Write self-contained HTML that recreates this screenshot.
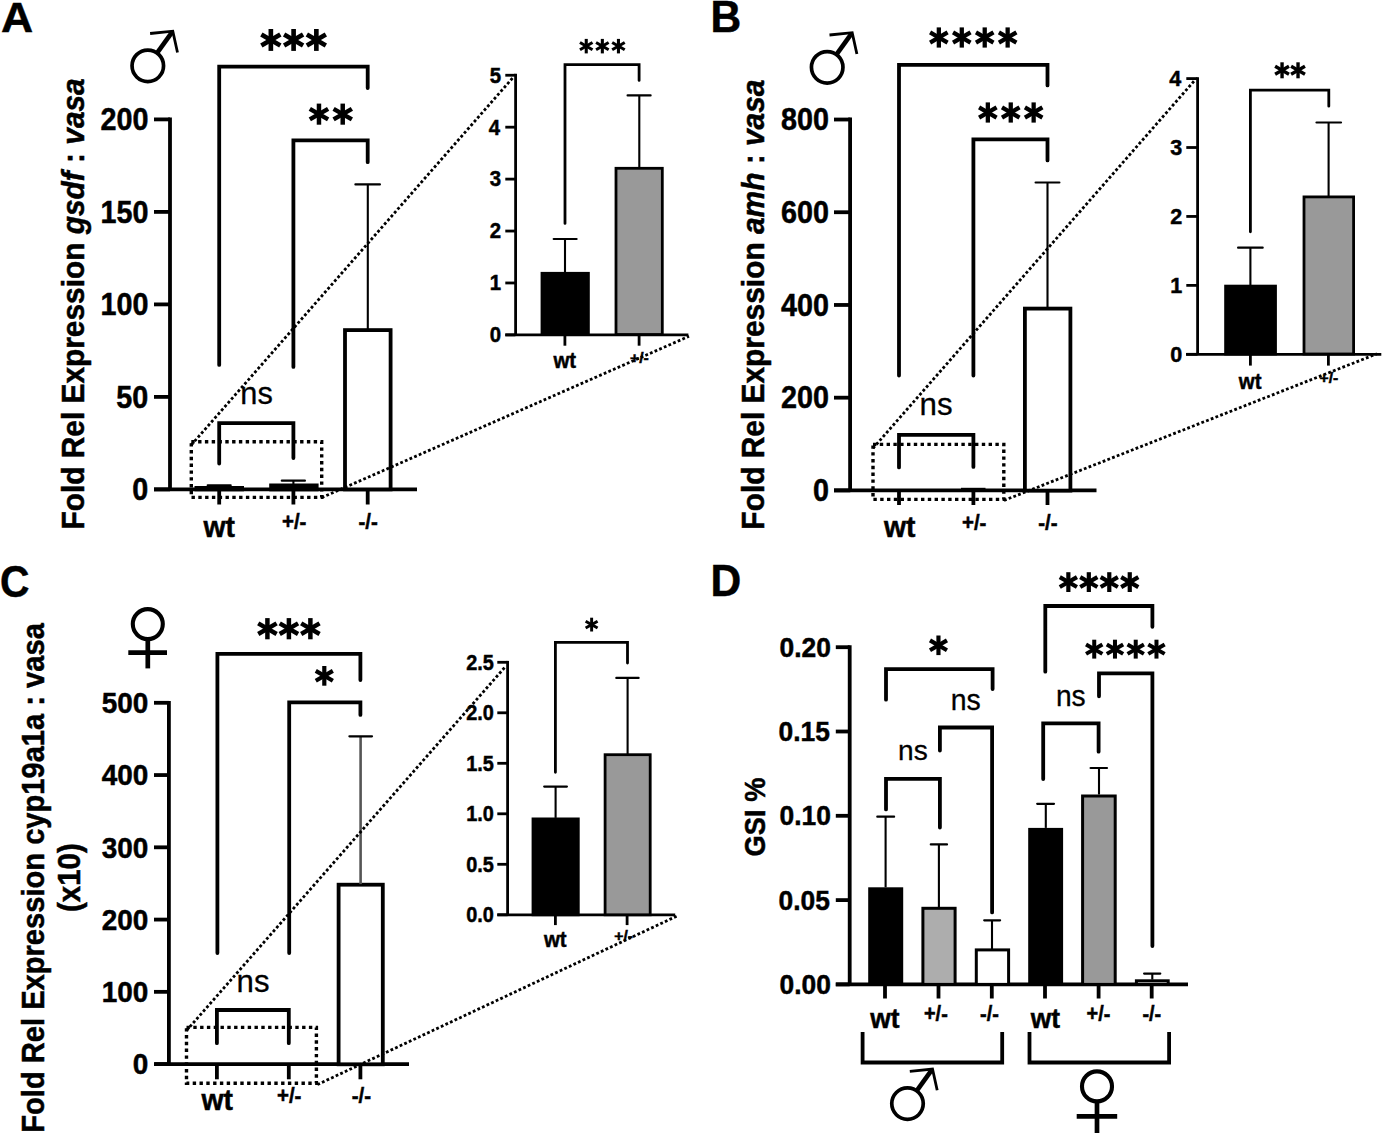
<!DOCTYPE html>
<html><head><meta charset="utf-8"><style>
html,body{margin:0;padding:0;background:#fff;}
svg{display:block;}
text{font-family:"Liberation Sans", sans-serif;fill:#000;}
</style></head><body>
<svg width="1387" height="1139" viewBox="0 0 1387 1139">
<rect width="1387" height="1139" fill="#fff"/>
<circle cx="147.80" cy="65.80" r="15.75" fill="none" stroke="#000" stroke-width="3.7"/>
<line x1="156.44" y1="53.84" x2="171.92" y2="32.42" stroke="#000" stroke-width="4.6" stroke-linecap="butt"/>
<polyline points="150.10,33.50 172.80,31.20 177.50,52.50" fill="none" stroke="#000" stroke-width="2.8" stroke-linecap="butt" stroke-linejoin="miter"/>
<line x1="170.00" y1="117.50" x2="170.00" y2="489.40" stroke="#000" stroke-width="3.8" stroke-linecap="butt"/>
<line x1="154.00" y1="489.40" x2="170.00" y2="489.40" stroke="#000" stroke-width="3.8" stroke-linecap="butt"/>
<line x1="154.00" y1="396.90" x2="170.00" y2="396.90" stroke="#000" stroke-width="3.8" stroke-linecap="butt"/>
<line x1="154.00" y1="304.40" x2="170.00" y2="304.40" stroke="#000" stroke-width="3.8" stroke-linecap="butt"/>
<line x1="154.00" y1="211.90" x2="170.00" y2="211.90" stroke="#000" stroke-width="3.8" stroke-linecap="butt"/>
<line x1="154.00" y1="119.40" x2="170.00" y2="119.40" stroke="#000" stroke-width="3.8" stroke-linecap="butt"/>
<line x1="154.00" y1="489.40" x2="417.00" y2="489.40" stroke="#000" stroke-width="3.8" stroke-linecap="butt"/>
<line x1="219.20" y1="489.40" x2="219.20" y2="504.50" stroke="#000" stroke-width="3.8" stroke-linecap="butt"/>
<line x1="293.40" y1="489.40" x2="293.40" y2="504.50" stroke="#000" stroke-width="3.8" stroke-linecap="butt"/>
<line x1="367.70" y1="489.40" x2="367.70" y2="504.50" stroke="#000" stroke-width="3.8" stroke-linecap="butt"/>
<rect x="196.40" y="487.90" width="45.70" height="1.50" fill="#000" stroke="#000" stroke-width="3.8"/>
<rect x="271.10" y="485.40" width="45.60" height="4.00" fill="#000" stroke="#000" stroke-width="3.8"/>
<rect x="345.00" y="330.10" width="45.60" height="159.30" fill="#fff" stroke="#000" stroke-width="3.8"/>
<line x1="219.20" y1="485.30" x2="219.20" y2="486.50" stroke="#000" stroke-width="2.1" stroke-linecap="butt"/>
<line x1="207.70" y1="485.30" x2="230.70" y2="485.30" stroke="#000" stroke-width="2.2" stroke-linecap="round"/>
<line x1="293.40" y1="480.70" x2="293.40" y2="484.00" stroke="#000" stroke-width="2.1" stroke-linecap="butt"/>
<line x1="281.80" y1="480.70" x2="304.90" y2="480.70" stroke="#000" stroke-width="2.2" stroke-linecap="round"/>
<line x1="367.80" y1="184.40" x2="367.80" y2="329.00" stroke="#000" stroke-width="2.1" stroke-linecap="butt"/>
<line x1="355.40" y1="184.40" x2="379.90" y2="184.40" stroke="#000" stroke-width="2.2" stroke-linecap="round"/>
<polyline points="219.20,364.90 219.20,66.70 367.70,66.70 367.70,88.10" fill="none" stroke="#000" stroke-width="3.8" stroke-linecap="round" stroke-linejoin="miter"/>
<polyline points="293.40,366.90 293.40,140.30 367.70,140.30 367.70,162.20" fill="none" stroke="#000" stroke-width="3.8" stroke-linecap="round" stroke-linejoin="miter"/>
<polyline points="219.20,463.50 219.20,423.20 293.40,423.20 293.40,458.00" fill="none" stroke="#000" stroke-width="3.8" stroke-linecap="round" stroke-linejoin="miter"/>
<rect x="268.53" y="29.00" width="4.64" height="21.90" fill="#000" transform="rotate(0 270.85 39.95)"/>
<rect x="268.53" y="29.00" width="4.64" height="21.90" fill="#000" transform="rotate(60 270.85 39.95)"/>
<rect x="268.53" y="29.00" width="4.64" height="21.90" fill="#000" transform="rotate(120 270.85 39.95)"/>
<rect x="291.28" y="29.00" width="4.64" height="21.90" fill="#000" transform="rotate(0 293.60 39.95)"/>
<rect x="291.28" y="29.00" width="4.64" height="21.90" fill="#000" transform="rotate(60 293.60 39.95)"/>
<rect x="291.28" y="29.00" width="4.64" height="21.90" fill="#000" transform="rotate(120 293.60 39.95)"/>
<rect x="314.03" y="29.00" width="4.64" height="21.90" fill="#000" transform="rotate(0 316.35 39.95)"/>
<rect x="314.03" y="29.00" width="4.64" height="21.90" fill="#000" transform="rotate(60 316.35 39.95)"/>
<rect x="314.03" y="29.00" width="4.64" height="21.90" fill="#000" transform="rotate(120 316.35 39.95)"/>
<rect x="316.73" y="103.60" width="4.47" height="21.10" fill="#000" transform="rotate(0 318.97 114.15)"/>
<rect x="316.73" y="103.60" width="4.47" height="21.10" fill="#000" transform="rotate(60 318.97 114.15)"/>
<rect x="316.73" y="103.60" width="4.47" height="21.10" fill="#000" transform="rotate(120 318.97 114.15)"/>
<rect x="340.49" y="103.60" width="4.47" height="21.10" fill="#000" transform="rotate(0 342.73 114.15)"/>
<rect x="340.49" y="103.60" width="4.47" height="21.10" fill="#000" transform="rotate(60 342.73 114.15)"/>
<rect x="340.49" y="103.60" width="4.47" height="21.10" fill="#000" transform="rotate(120 342.73 114.15)"/>
<rect x="191.30" y="441.80" width="130.40" height="55.60" fill="none" stroke="#000" stroke-width="3.4" stroke-dasharray="3.4 3.4"/>
<line x1="191.30" y1="445.00" x2="513.50" y2="77.00" stroke="#000" stroke-width="2.8" stroke-linecap="butt" stroke-dasharray="2.8 2.25"/>
<line x1="321.70" y1="497.60" x2="689.00" y2="336.30" stroke="#000" stroke-width="2.8" stroke-linecap="butt" stroke-dasharray="2.8 2.25"/>
<line x1="515.60" y1="73.85" x2="515.60" y2="334.90" stroke="#000" stroke-width="2.8" stroke-linecap="butt"/>
<line x1="505.30" y1="334.90" x2="515.40" y2="334.90" stroke="#000" stroke-width="2.8" stroke-linecap="butt"/>
<line x1="505.30" y1="282.97" x2="515.40" y2="282.97" stroke="#000" stroke-width="2.8" stroke-linecap="butt"/>
<line x1="505.30" y1="231.04" x2="515.40" y2="231.04" stroke="#000" stroke-width="2.8" stroke-linecap="butt"/>
<line x1="505.30" y1="179.11" x2="515.40" y2="179.11" stroke="#000" stroke-width="2.8" stroke-linecap="butt"/>
<line x1="505.30" y1="127.18" x2="515.40" y2="127.18" stroke="#000" stroke-width="2.8" stroke-linecap="butt"/>
<line x1="505.30" y1="75.25" x2="515.40" y2="75.25" stroke="#000" stroke-width="2.8" stroke-linecap="butt"/>
<line x1="505.30" y1="334.90" x2="688.40" y2="334.90" stroke="#000" stroke-width="2.8" stroke-linecap="butt"/>
<line x1="564.90" y1="334.90" x2="564.90" y2="345.70" stroke="#000" stroke-width="2.8" stroke-linecap="butt"/>
<line x1="639.10" y1="334.90" x2="639.10" y2="345.70" stroke="#000" stroke-width="2.8" stroke-linecap="butt"/>
<rect x="542.00" y="273.30" width="46.40" height="61.20" fill="#000" stroke="#000" stroke-width="2.8"/>
<rect x="616.00" y="168.30" width="46.30" height="166.20" fill="#999999" stroke="#000" stroke-width="2.8"/>
<line x1="565.00" y1="239.00" x2="565.00" y2="272.20" stroke="#000" stroke-width="2.1" stroke-linecap="butt"/>
<line x1="553.70" y1="239.00" x2="576.60" y2="239.00" stroke="#000" stroke-width="2.2" stroke-linecap="round"/>
<line x1="639.30" y1="95.40" x2="639.30" y2="167.60" stroke="#000" stroke-width="2.1" stroke-linecap="butt"/>
<line x1="627.60" y1="95.40" x2="650.60" y2="95.40" stroke="#000" stroke-width="2.2" stroke-linecap="round"/>
<polyline points="565.00,223.40 565.00,64.60 639.10,64.60 639.10,80.40" fill="none" stroke="#000" stroke-width="2.8" stroke-linecap="round" stroke-linejoin="miter"/>
<rect x="584.71" y="38.90" width="3.07" height="14.50" fill="#000" transform="rotate(0 586.25 46.15)"/>
<rect x="584.71" y="38.90" width="3.07" height="14.50" fill="#000" transform="rotate(60 586.25 46.15)"/>
<rect x="584.71" y="38.90" width="3.07" height="14.50" fill="#000" transform="rotate(120 586.25 46.15)"/>
<rect x="600.81" y="38.90" width="3.07" height="14.50" fill="#000" transform="rotate(0 602.35 46.15)"/>
<rect x="600.81" y="38.90" width="3.07" height="14.50" fill="#000" transform="rotate(60 602.35 46.15)"/>
<rect x="600.81" y="38.90" width="3.07" height="14.50" fill="#000" transform="rotate(120 602.35 46.15)"/>
<rect x="616.91" y="38.90" width="3.07" height="14.50" fill="#000" transform="rotate(0 618.45 46.15)"/>
<rect x="616.91" y="38.90" width="3.07" height="14.50" fill="#000" transform="rotate(60 618.45 46.15)"/>
<rect x="616.91" y="38.90" width="3.07" height="14.50" fill="#000" transform="rotate(120 618.45 46.15)"/>
<circle cx="827.20" cy="67.30" r="15.75" fill="none" stroke="#000" stroke-width="3.7"/>
<line x1="835.84" y1="55.34" x2="851.32" y2="33.92" stroke="#000" stroke-width="4.6" stroke-linecap="butt"/>
<polyline points="829.50,35.00 852.20,32.70 856.90,54.00" fill="none" stroke="#000" stroke-width="2.8" stroke-linecap="butt" stroke-linejoin="miter"/>
<line x1="850.10" y1="117.62" x2="850.10" y2="490.40" stroke="#000" stroke-width="3.8" stroke-linecap="butt"/>
<line x1="834.00" y1="490.40" x2="850.30" y2="490.40" stroke="#000" stroke-width="3.8" stroke-linecap="butt"/>
<line x1="834.00" y1="397.68" x2="850.30" y2="397.68" stroke="#000" stroke-width="3.8" stroke-linecap="butt"/>
<line x1="834.00" y1="304.96" x2="850.30" y2="304.96" stroke="#000" stroke-width="3.8" stroke-linecap="butt"/>
<line x1="834.00" y1="212.24" x2="850.30" y2="212.24" stroke="#000" stroke-width="3.8" stroke-linecap="butt"/>
<line x1="834.00" y1="119.52" x2="850.30" y2="119.52" stroke="#000" stroke-width="3.8" stroke-linecap="butt"/>
<line x1="834.00" y1="490.40" x2="1096.50" y2="490.40" stroke="#000" stroke-width="3.8" stroke-linecap="butt"/>
<line x1="899.00" y1="490.40" x2="899.00" y2="505.00" stroke="#000" stroke-width="3.8" stroke-linecap="butt"/>
<line x1="973.40" y1="490.40" x2="973.40" y2="505.00" stroke="#000" stroke-width="3.8" stroke-linecap="butt"/>
<line x1="1047.50" y1="490.40" x2="1047.50" y2="505.00" stroke="#000" stroke-width="3.8" stroke-linecap="butt"/>
<rect x="962.25" y="489.05" width="22.00" height="1.55" fill="#000" stroke="#000" stroke-width="2.5"/>
<rect x="1024.90" y="308.60" width="45.50" height="182.00" fill="#fff" stroke="#000" stroke-width="3.8"/>
<line x1="1047.50" y1="182.50" x2="1047.50" y2="308.00" stroke="#000" stroke-width="2.1" stroke-linecap="butt"/>
<line x1="1035.60" y1="182.50" x2="1059.40" y2="182.50" stroke="#000" stroke-width="2.2" stroke-linecap="round"/>
<polyline points="899.00,375.60 899.00,64.90 1047.50,64.90 1047.50,85.40" fill="none" stroke="#000" stroke-width="3.8" stroke-linecap="round" stroke-linejoin="miter"/>
<polyline points="973.40,375.60 973.40,139.30 1047.50,139.30 1047.50,160.40" fill="none" stroke="#000" stroke-width="3.8" stroke-linecap="round" stroke-linejoin="miter"/>
<polyline points="899.00,467.40 899.00,434.80 973.40,434.80 973.40,466.90" fill="none" stroke="#000" stroke-width="3.8" stroke-linecap="round" stroke-linejoin="miter"/>
<rect x="936.70" y="27.40" width="4.28" height="20.20" fill="#000" transform="rotate(0 938.84 37.50)"/>
<rect x="936.70" y="27.40" width="4.28" height="20.20" fill="#000" transform="rotate(60 938.84 37.50)"/>
<rect x="936.70" y="27.40" width="4.28" height="20.20" fill="#000" transform="rotate(120 938.84 37.50)"/>
<rect x="959.64" y="27.40" width="4.28" height="20.20" fill="#000" transform="rotate(0 961.78 37.50)"/>
<rect x="959.64" y="27.40" width="4.28" height="20.20" fill="#000" transform="rotate(60 961.78 37.50)"/>
<rect x="959.64" y="27.40" width="4.28" height="20.20" fill="#000" transform="rotate(120 961.78 37.50)"/>
<rect x="982.58" y="27.40" width="4.28" height="20.20" fill="#000" transform="rotate(0 984.72 37.50)"/>
<rect x="982.58" y="27.40" width="4.28" height="20.20" fill="#000" transform="rotate(60 984.72 37.50)"/>
<rect x="982.58" y="27.40" width="4.28" height="20.20" fill="#000" transform="rotate(120 984.72 37.50)"/>
<rect x="1005.51" y="27.40" width="4.28" height="20.20" fill="#000" transform="rotate(0 1007.66 37.50)"/>
<rect x="1005.51" y="27.40" width="4.28" height="20.20" fill="#000" transform="rotate(60 1007.66 37.50)"/>
<rect x="1005.51" y="27.40" width="4.28" height="20.20" fill="#000" transform="rotate(120 1007.66 37.50)"/>
<rect x="985.70" y="102.40" width="4.28" height="20.20" fill="#000" transform="rotate(0 987.84 112.50)"/>
<rect x="985.70" y="102.40" width="4.28" height="20.20" fill="#000" transform="rotate(60 987.84 112.50)"/>
<rect x="985.70" y="102.40" width="4.28" height="20.20" fill="#000" transform="rotate(120 987.84 112.50)"/>
<rect x="1008.61" y="102.40" width="4.28" height="20.20" fill="#000" transform="rotate(0 1010.75 112.50)"/>
<rect x="1008.61" y="102.40" width="4.28" height="20.20" fill="#000" transform="rotate(60 1010.75 112.50)"/>
<rect x="1008.61" y="102.40" width="4.28" height="20.20" fill="#000" transform="rotate(120 1010.75 112.50)"/>
<rect x="1031.51" y="102.40" width="4.28" height="20.20" fill="#000" transform="rotate(0 1033.66 112.50)"/>
<rect x="1031.51" y="102.40" width="4.28" height="20.20" fill="#000" transform="rotate(60 1033.66 112.50)"/>
<rect x="1031.51" y="102.40" width="4.28" height="20.20" fill="#000" transform="rotate(120 1033.66 112.50)"/>
<rect x="873.00" y="444.40" width="130.80" height="55.00" fill="none" stroke="#000" stroke-width="3.4" stroke-dasharray="3.4 3.4"/>
<line x1="873.00" y1="448.30" x2="1195.00" y2="80.00" stroke="#000" stroke-width="2.8" stroke-linecap="butt" stroke-dasharray="2.8 2.25"/>
<line x1="1004.00" y1="500.40" x2="1377.00" y2="353.80" stroke="#000" stroke-width="2.8" stroke-linecap="butt" stroke-dasharray="2.8 2.25"/>
<line x1="1197.60" y1="77.18" x2="1197.60" y2="354.30" stroke="#000" stroke-width="2.8" stroke-linecap="butt"/>
<line x1="1186.30" y1="354.30" x2="1197.50" y2="354.30" stroke="#000" stroke-width="2.8" stroke-linecap="butt"/>
<line x1="1186.30" y1="285.37" x2="1197.50" y2="285.37" stroke="#000" stroke-width="2.8" stroke-linecap="butt"/>
<line x1="1186.30" y1="216.44" x2="1197.50" y2="216.44" stroke="#000" stroke-width="2.8" stroke-linecap="butt"/>
<line x1="1186.30" y1="147.51" x2="1197.50" y2="147.51" stroke="#000" stroke-width="2.8" stroke-linecap="butt"/>
<line x1="1186.30" y1="78.58" x2="1197.50" y2="78.58" stroke="#000" stroke-width="2.8" stroke-linecap="butt"/>
<line x1="1186.00" y1="354.30" x2="1381.30" y2="354.30" stroke="#000" stroke-width="2.8" stroke-linecap="butt"/>
<line x1="1250.40" y1="354.30" x2="1250.40" y2="365.60" stroke="#000" stroke-width="2.8" stroke-linecap="butt"/>
<line x1="1328.40" y1="354.30" x2="1328.40" y2="365.60" stroke="#000" stroke-width="2.8" stroke-linecap="butt"/>
<rect x="1225.60" y="286.10" width="49.90" height="67.90" fill="#000" stroke="#000" stroke-width="2.8"/>
<rect x="1304.00" y="196.90" width="49.60" height="157.10" fill="#999999" stroke="#000" stroke-width="2.8"/>
<line x1="1250.40" y1="247.70" x2="1250.40" y2="285.10" stroke="#000" stroke-width="2.1" stroke-linecap="butt"/>
<line x1="1238.10" y1="247.70" x2="1262.70" y2="247.70" stroke="#000" stroke-width="2.2" stroke-linecap="round"/>
<line x1="1328.60" y1="122.50" x2="1328.60" y2="196.70" stroke="#000" stroke-width="2.1" stroke-linecap="butt"/>
<line x1="1316.50" y1="122.50" x2="1341.00" y2="122.50" stroke="#000" stroke-width="2.2" stroke-linecap="round"/>
<polyline points="1250.40,231.80 1250.40,90.20 1328.80,90.20 1328.80,106.20" fill="none" stroke="#000" stroke-width="2.8" stroke-linecap="round" stroke-linejoin="miter"/>
<rect x="1280.36" y="62.30" width="3.39" height="16.00" fill="#000" transform="rotate(0 1282.06 70.30)"/>
<rect x="1280.36" y="62.30" width="3.39" height="16.00" fill="#000" transform="rotate(60 1282.06 70.30)"/>
<rect x="1280.36" y="62.30" width="3.39" height="16.00" fill="#000" transform="rotate(120 1282.06 70.30)"/>
<rect x="1296.34" y="62.30" width="3.39" height="16.00" fill="#000" transform="rotate(0 1298.04 70.30)"/>
<rect x="1296.34" y="62.30" width="3.39" height="16.00" fill="#000" transform="rotate(60 1298.04 70.30)"/>
<rect x="1296.34" y="62.30" width="3.39" height="16.00" fill="#000" transform="rotate(120 1298.04 70.30)"/>
<circle cx="147.80" cy="624.10" r="15.0" fill="none" stroke="#000" stroke-width="4.1"/>
<line x1="147.80" y1="639.10" x2="147.80" y2="668.40" stroke="#000" stroke-width="4.7" stroke-linecap="butt"/>
<line x1="128.30" y1="652.70" x2="167.00" y2="652.70" stroke="#000" stroke-width="4.7" stroke-linecap="butt"/>
<line x1="168.90" y1="700.90" x2="168.90" y2="1064.10" stroke="#000" stroke-width="3.8" stroke-linecap="butt"/>
<line x1="154.00" y1="1064.10" x2="168.90" y2="1064.10" stroke="#000" stroke-width="3.8" stroke-linecap="butt"/>
<line x1="154.00" y1="991.84" x2="168.90" y2="991.84" stroke="#000" stroke-width="3.8" stroke-linecap="butt"/>
<line x1="154.00" y1="919.58" x2="168.90" y2="919.58" stroke="#000" stroke-width="3.8" stroke-linecap="butt"/>
<line x1="154.00" y1="847.32" x2="168.90" y2="847.32" stroke="#000" stroke-width="3.8" stroke-linecap="butt"/>
<line x1="154.00" y1="775.06" x2="168.90" y2="775.06" stroke="#000" stroke-width="3.8" stroke-linecap="butt"/>
<line x1="154.00" y1="702.80" x2="168.90" y2="702.80" stroke="#000" stroke-width="3.8" stroke-linecap="butt"/>
<line x1="154.40" y1="1064.10" x2="409.00" y2="1064.10" stroke="#000" stroke-width="3.8" stroke-linecap="butt"/>
<line x1="216.90" y1="1064.10" x2="216.90" y2="1079.30" stroke="#000" stroke-width="3.8" stroke-linecap="butt"/>
<line x1="288.80" y1="1064.10" x2="288.80" y2="1079.30" stroke="#000" stroke-width="3.8" stroke-linecap="butt"/>
<line x1="360.40" y1="1064.10" x2="360.40" y2="1079.30" stroke="#000" stroke-width="3.8" stroke-linecap="butt"/>
<rect x="338.60" y="884.70" width="44.20" height="179.60" fill="#fff" stroke="#000" stroke-width="3.8"/>
<line x1="360.60" y1="736.30" x2="360.60" y2="884.10" stroke="#555" stroke-width="2.6" stroke-linecap="butt"/>
<line x1="349.40" y1="736.30" x2="372.00" y2="736.30" stroke="#000" stroke-width="2.2" stroke-linecap="round"/>
<polyline points="217.40,953.00 217.40,653.90 360.40,653.90 360.40,680.00" fill="none" stroke="#000" stroke-width="3.8" stroke-linecap="round" stroke-linejoin="miter"/>
<polyline points="289.20,953.00 289.20,702.30 360.40,702.30 360.40,714.90" fill="none" stroke="#000" stroke-width="3.8" stroke-linecap="round" stroke-linejoin="miter"/>
<polyline points="216.90,1043.20 216.90,1010.00 288.80,1010.00 288.80,1043.20" fill="none" stroke="#000" stroke-width="3.8" stroke-linecap="round" stroke-linejoin="miter"/>
<rect x="265.17" y="618.10" width="4.49" height="21.20" fill="#000" transform="rotate(0 267.42 628.70)"/>
<rect x="265.17" y="618.10" width="4.49" height="21.20" fill="#000" transform="rotate(60 267.42 628.70)"/>
<rect x="265.17" y="618.10" width="4.49" height="21.20" fill="#000" transform="rotate(120 267.42 628.70)"/>
<rect x="286.65" y="618.10" width="4.49" height="21.20" fill="#000" transform="rotate(0 288.90 628.70)"/>
<rect x="286.65" y="618.10" width="4.49" height="21.20" fill="#000" transform="rotate(60 288.90 628.70)"/>
<rect x="286.65" y="618.10" width="4.49" height="21.20" fill="#000" transform="rotate(120 288.90 628.70)"/>
<rect x="308.14" y="618.10" width="4.49" height="21.20" fill="#000" transform="rotate(0 310.38 628.70)"/>
<rect x="308.14" y="618.10" width="4.49" height="21.20" fill="#000" transform="rotate(60 310.38 628.70)"/>
<rect x="308.14" y="618.10" width="4.49" height="21.20" fill="#000" transform="rotate(120 310.38 628.70)"/>
<rect x="322.22" y="666.00" width="4.18" height="19.70" fill="#000" transform="rotate(0 324.31 675.85)"/>
<rect x="322.22" y="666.00" width="4.18" height="19.70" fill="#000" transform="rotate(60 324.31 675.85)"/>
<rect x="322.22" y="666.00" width="4.18" height="19.70" fill="#000" transform="rotate(120 324.31 675.85)"/>
<rect x="186.50" y="1027.40" width="129.90" height="55.80" fill="none" stroke="#000" stroke-width="3.4" stroke-dasharray="3.4 3.4"/>
<line x1="186.50" y1="1030.60" x2="505.80" y2="666.20" stroke="#000" stroke-width="2.8" stroke-linecap="butt" stroke-dasharray="2.8 2.25"/>
<line x1="317.40" y1="1084.60" x2="677.90" y2="915.60" stroke="#000" stroke-width="2.8" stroke-linecap="butt" stroke-dasharray="2.8 2.25"/>
<line x1="507.60" y1="660.90" x2="507.60" y2="914.80" stroke="#000" stroke-width="2.8" stroke-linecap="butt"/>
<line x1="497.30" y1="914.80" x2="507.60" y2="914.80" stroke="#000" stroke-width="2.8" stroke-linecap="butt"/>
<line x1="497.30" y1="864.30" x2="507.60" y2="864.30" stroke="#000" stroke-width="2.8" stroke-linecap="butt"/>
<line x1="497.30" y1="813.80" x2="507.60" y2="813.80" stroke="#000" stroke-width="2.8" stroke-linecap="butt"/>
<line x1="497.30" y1="763.30" x2="507.60" y2="763.30" stroke="#000" stroke-width="2.8" stroke-linecap="butt"/>
<line x1="497.30" y1="712.80" x2="507.60" y2="712.80" stroke="#000" stroke-width="2.8" stroke-linecap="butt"/>
<line x1="497.30" y1="662.30" x2="507.60" y2="662.30" stroke="#000" stroke-width="2.8" stroke-linecap="butt"/>
<line x1="497.30" y1="914.80" x2="675.20" y2="914.80" stroke="#000" stroke-width="2.8" stroke-linecap="butt"/>
<line x1="555.40" y1="914.80" x2="555.40" y2="925.10" stroke="#000" stroke-width="2.8" stroke-linecap="butt"/>
<line x1="627.10" y1="914.80" x2="627.10" y2="925.10" stroke="#000" stroke-width="2.8" stroke-linecap="butt"/>
<rect x="533.00" y="818.90" width="45.30" height="95.90" fill="#000" stroke="#000" stroke-width="2.8"/>
<rect x="605.10" y="754.70" width="45.10" height="160.10" fill="#999999" stroke="#000" stroke-width="2.8"/>
<line x1="555.60" y1="786.60" x2="555.60" y2="817.90" stroke="#000" stroke-width="2.1" stroke-linecap="butt"/>
<line x1="544.20" y1="786.60" x2="566.90" y2="786.60" stroke="#000" stroke-width="2.2" stroke-linecap="round"/>
<line x1="627.60" y1="677.90" x2="627.60" y2="754.10" stroke="#000" stroke-width="2.1" stroke-linecap="butt"/>
<line x1="616.30" y1="677.90" x2="638.60" y2="677.90" stroke="#000" stroke-width="2.2" stroke-linecap="round"/>
<polyline points="555.40,772.30 555.40,642.40 627.50,642.40 627.50,663.00" fill="none" stroke="#000" stroke-width="2.8" stroke-linecap="round" stroke-linejoin="miter"/>
<rect x="590.16" y="617.70" width="2.93" height="13.80" fill="#000" transform="rotate(0 591.62 624.60)"/>
<rect x="590.16" y="617.70" width="2.93" height="13.80" fill="#000" transform="rotate(60 591.62 624.60)"/>
<rect x="590.16" y="617.70" width="2.93" height="13.80" fill="#000" transform="rotate(120 591.62 624.60)"/>
<line x1="849.70" y1="645.30" x2="849.70" y2="984.40" stroke="#000" stroke-width="3.8" stroke-linecap="butt"/>
<line x1="835.80" y1="984.40" x2="849.70" y2="984.40" stroke="#000" stroke-width="3.8" stroke-linecap="butt"/>
<line x1="835.80" y1="900.10" x2="849.70" y2="900.10" stroke="#000" stroke-width="3.8" stroke-linecap="butt"/>
<line x1="835.80" y1="815.80" x2="849.70" y2="815.80" stroke="#000" stroke-width="3.8" stroke-linecap="butt"/>
<line x1="835.80" y1="731.50" x2="849.70" y2="731.50" stroke="#000" stroke-width="3.8" stroke-linecap="butt"/>
<line x1="835.80" y1="647.20" x2="849.70" y2="647.20" stroke="#000" stroke-width="3.8" stroke-linecap="butt"/>
<line x1="835.80" y1="984.40" x2="1188.00" y2="984.40" stroke="#000" stroke-width="3.8" stroke-linecap="butt"/>
<line x1="885.00" y1="984.40" x2="885.00" y2="998.50" stroke="#000" stroke-width="3.8" stroke-linecap="butt"/>
<line x1="938.50" y1="984.40" x2="938.50" y2="998.50" stroke="#000" stroke-width="3.8" stroke-linecap="butt"/>
<line x1="991.80" y1="984.40" x2="991.80" y2="998.50" stroke="#000" stroke-width="3.8" stroke-linecap="butt"/>
<line x1="1045.00" y1="984.40" x2="1045.00" y2="998.50" stroke="#000" stroke-width="3.8" stroke-linecap="butt"/>
<line x1="1098.60" y1="984.40" x2="1098.60" y2="998.50" stroke="#000" stroke-width="3.8" stroke-linecap="butt"/>
<line x1="1151.70" y1="984.40" x2="1151.70" y2="998.50" stroke="#000" stroke-width="3.8" stroke-linecap="butt"/>
<rect x="869.70" y="888.80" width="32.00" height="95.60" fill="#000" stroke="#000" stroke-width="3"/>
<rect x="922.90" y="908.30" width="32.20" height="76.10" fill="#adadad" stroke="#000" stroke-width="3"/>
<rect x="976.30" y="949.90" width="32.30" height="34.50" fill="#fff" stroke="#000" stroke-width="3"/>
<rect x="1029.70" y="829.40" width="31.90" height="155.00" fill="#000" stroke="#000" stroke-width="3"/>
<rect x="1082.60" y="796.00" width="32.60" height="188.40" fill="#999999" stroke="#000" stroke-width="3"/>
<rect x="1136.40" y="980.80" width="31.80" height="3.60" fill="#eee" stroke="#000" stroke-width="3"/>
<line x1="885.60" y1="816.70" x2="885.60" y2="887.30" stroke="#000" stroke-width="2.1" stroke-linecap="butt"/>
<line x1="877.30" y1="816.70" x2="894.10" y2="816.70" stroke="#000" stroke-width="2.2" stroke-linecap="round"/>
<line x1="938.90" y1="844.40" x2="938.90" y2="907.40" stroke="#000" stroke-width="2.1" stroke-linecap="butt"/>
<line x1="930.80" y1="844.40" x2="947.00" y2="844.40" stroke="#000" stroke-width="2.2" stroke-linecap="round"/>
<line x1="992.00" y1="920.30" x2="992.00" y2="949.40" stroke="#000" stroke-width="2.1" stroke-linecap="butt"/>
<line x1="984.20" y1="920.30" x2="1000.10" y2="920.30" stroke="#000" stroke-width="2.2" stroke-linecap="round"/>
<line x1="1045.80" y1="803.80" x2="1045.80" y2="827.90" stroke="#000" stroke-width="2.1" stroke-linecap="butt"/>
<line x1="1037.20" y1="803.80" x2="1054.00" y2="803.80" stroke="#000" stroke-width="2.2" stroke-linecap="round"/>
<line x1="1099.00" y1="768.00" x2="1099.00" y2="794.50" stroke="#000" stroke-width="2.1" stroke-linecap="butt"/>
<line x1="1090.60" y1="768.00" x2="1107.00" y2="768.00" stroke="#000" stroke-width="2.2" stroke-linecap="round"/>
<line x1="1152.30" y1="973.60" x2="1152.30" y2="979.60" stroke="#000" stroke-width="2.1" stroke-linecap="butt"/>
<line x1="1144.10" y1="973.60" x2="1160.30" y2="973.60" stroke="#000" stroke-width="2.2" stroke-linecap="round"/>
<polyline points="886.00,699.70 886.00,669.20 992.60,669.20 992.60,689.10" fill="none" stroke="#000" stroke-width="3.8" stroke-linecap="round" stroke-linejoin="miter"/>
<polyline points="939.90,750.60 939.90,727.50 992.10,727.50 992.10,912.40" fill="none" stroke="#000" stroke-width="3.8" stroke-linecap="round" stroke-linejoin="miter"/>
<polyline points="886.00,809.40 886.00,778.90 939.90,778.90 939.90,827.60" fill="none" stroke="#000" stroke-width="3.8" stroke-linecap="round" stroke-linejoin="miter"/>
<polyline points="1045.30,671.70 1045.30,606.00 1152.40,606.00 1152.40,626.80" fill="none" stroke="#000" stroke-width="3.8" stroke-linecap="round" stroke-linejoin="miter"/>
<polyline points="1099.00,696.30 1099.00,673.40 1152.40,673.40 1152.40,946.10" fill="none" stroke="#000" stroke-width="3.8" stroke-linecap="round" stroke-linejoin="miter"/>
<polyline points="1043.20,779.10 1043.20,723.30 1098.60,723.30 1098.60,751.70" fill="none" stroke="#000" stroke-width="3.8" stroke-linecap="round" stroke-linejoin="miter"/>
<rect x="936.38" y="635.50" width="4.16" height="19.60" fill="#000" transform="rotate(0 938.46 645.30)"/>
<rect x="936.38" y="635.50" width="4.16" height="19.60" fill="#000" transform="rotate(60 938.46 645.30)"/>
<rect x="936.38" y="635.50" width="4.16" height="19.60" fill="#000" transform="rotate(120 938.46 645.30)"/>
<rect x="1066.26" y="572.20" width="4.20" height="19.80" fill="#000" transform="rotate(0 1068.36 582.10)"/>
<rect x="1066.26" y="572.20" width="4.20" height="19.80" fill="#000" transform="rotate(60 1068.36 582.10)"/>
<rect x="1066.26" y="572.20" width="4.20" height="19.80" fill="#000" transform="rotate(120 1068.36 582.10)"/>
<rect x="1086.72" y="572.20" width="4.20" height="19.80" fill="#000" transform="rotate(0 1088.82 582.10)"/>
<rect x="1086.72" y="572.20" width="4.20" height="19.80" fill="#000" transform="rotate(60 1088.82 582.10)"/>
<rect x="1086.72" y="572.20" width="4.20" height="19.80" fill="#000" transform="rotate(120 1088.82 582.10)"/>
<rect x="1107.18" y="572.20" width="4.20" height="19.80" fill="#000" transform="rotate(0 1109.28 582.10)"/>
<rect x="1107.18" y="572.20" width="4.20" height="19.80" fill="#000" transform="rotate(60 1109.28 582.10)"/>
<rect x="1107.18" y="572.20" width="4.20" height="19.80" fill="#000" transform="rotate(120 1109.28 582.10)"/>
<rect x="1127.65" y="572.20" width="4.20" height="19.80" fill="#000" transform="rotate(0 1129.74 582.10)"/>
<rect x="1127.65" y="572.20" width="4.20" height="19.80" fill="#000" transform="rotate(60 1129.74 582.10)"/>
<rect x="1127.65" y="572.20" width="4.20" height="19.80" fill="#000" transform="rotate(120 1129.74 582.10)"/>
<rect x="1092.23" y="639.70" width="4.01" height="18.90" fill="#000" transform="rotate(0 1094.23 649.15)"/>
<rect x="1092.23" y="639.70" width="4.01" height="18.90" fill="#000" transform="rotate(60 1094.23 649.15)"/>
<rect x="1092.23" y="639.70" width="4.01" height="18.90" fill="#000" transform="rotate(120 1094.23 649.15)"/>
<rect x="1112.97" y="639.70" width="4.01" height="18.90" fill="#000" transform="rotate(0 1114.98 649.15)"/>
<rect x="1112.97" y="639.70" width="4.01" height="18.90" fill="#000" transform="rotate(60 1114.98 649.15)"/>
<rect x="1112.97" y="639.70" width="4.01" height="18.90" fill="#000" transform="rotate(120 1114.98 649.15)"/>
<rect x="1133.72" y="639.70" width="4.01" height="18.90" fill="#000" transform="rotate(0 1135.72 649.15)"/>
<rect x="1133.72" y="639.70" width="4.01" height="18.90" fill="#000" transform="rotate(60 1135.72 649.15)"/>
<rect x="1133.72" y="639.70" width="4.01" height="18.90" fill="#000" transform="rotate(120 1135.72 649.15)"/>
<rect x="1154.47" y="639.70" width="4.01" height="18.90" fill="#000" transform="rotate(0 1156.47 649.15)"/>
<rect x="1154.47" y="639.70" width="4.01" height="18.90" fill="#000" transform="rotate(60 1156.47 649.15)"/>
<rect x="1154.47" y="639.70" width="4.01" height="18.90" fill="#000" transform="rotate(120 1156.47 649.15)"/>
<polyline points="862.60,1031.90 862.60,1062.50 1002.20,1062.50 1002.20,1031.90" fill="none" stroke="#000" stroke-width="3.8" stroke-linecap="butt" stroke-linejoin="miter"/>
<polyline points="1029.50,1031.90 1029.50,1062.50 1169.10,1062.50 1169.10,1031.90" fill="none" stroke="#000" stroke-width="3.8" stroke-linecap="butt" stroke-linejoin="miter"/>
<circle cx="907.50" cy="1103.60" r="15.75" fill="none" stroke="#000" stroke-width="3.7"/>
<line x1="916.14" y1="1091.64" x2="931.62" y2="1070.22" stroke="#000" stroke-width="4.6" stroke-linecap="butt"/>
<polyline points="909.80,1071.30 932.50,1069.00 937.20,1090.30" fill="none" stroke="#000" stroke-width="2.8" stroke-linecap="butt" stroke-linejoin="miter"/>
<circle cx="1097.00" cy="1086.40" r="15.0" fill="none" stroke="#000" stroke-width="4.1"/>
<line x1="1097.00" y1="1101.40" x2="1097.00" y2="1133.00" stroke="#000" stroke-width="4.7" stroke-linecap="butt"/>
<line x1="1076.70" y1="1116.30" x2="1117.20" y2="1116.30" stroke="#000" stroke-width="4.7" stroke-linecap="butt"/>
<text text-anchor="middle" font-size="30.74" font-weight="bold" font-style="normal" stroke="#000" stroke-width="0.5" transform="translate(124.40 129.70) scale(0.9352 1)">200</text>
<text text-anchor="middle" font-size="29.00" font-weight="bold" font-style="normal" stroke="#000" stroke-width="0.5" transform="translate(219.10 536.90) scale(0.9750 1)">wt</text>
<text text-anchor="middle" font-size="22.40" font-weight="bold" font-style="normal" stroke="#000" stroke-width="0.5" transform="translate(294.20 529.20) scale(0.9141 1)">+/-</text>
<text text-anchor="middle" font-size="22.05" font-weight="bold" font-style="normal" stroke="#000" stroke-width="0.5" transform="translate(495.35 82.50) scale(0.9238 1)">5</text>
<text text-anchor="middle" font-size="21.38" font-weight="bold" font-style="normal" stroke="#000" stroke-width="0.5" transform="translate(564.80 368.00) scale(0.9511 1)">wt</text>
<text text-anchor="middle" font-size="14.59" font-weight="bold" font-style="normal" stroke="#000" stroke-width="0.5" transform="translate(639.35 362.80) scale(1.0730 1)">+/-</text>
<text text-anchor="middle" font-size="22.95" font-weight="bold" font-style="normal" stroke="#000" stroke-width="0.5" transform="translate(1175.24 85.80) scale(0.9400 1)">4</text>
<text text-anchor="middle" font-size="29.87" font-weight="bold" font-style="normal" stroke="#000" stroke-width="0.5" transform="translate(125.05 713.20) scale(0.9350 1)">500</text>
<text text-anchor="middle" font-size="22.05" font-weight="bold" font-style="normal" stroke="#000" stroke-width="0.5" transform="translate(480.05 669.70) scale(0.9014 1)">2.5</text>
<text text-anchor="middle" font-size="27.73" font-weight="bold" font-style="normal" stroke="#000" stroke-width="0.5" transform="translate(805.15 825.40) scale(0.9512 1)">0.10</text>
<text text-anchor="middle" font-size="27.38" font-weight="bold" font-style="normal" stroke="#000" stroke-width="0.5" transform="translate(884.95 1028.00) scale(0.9599 1)">wt</text>
<text text-anchor="middle" font-size="21.34" font-weight="bold" font-style="normal" stroke="#000" stroke-width="0.5" transform="translate(935.88 1021.00) scale(0.9328 1)">+/-</text>
<text text-anchor="middle" font-size="43.01" font-weight="bold" font-style="normal" stroke="#000" stroke-width="0.5" transform="translate(17.15 31.90) scale(1.0357 1)">A</text>
<text text-anchor="middle" font-size="30.74" font-weight="bold" font-style="normal" stroke="#000" stroke-width="0.5" transform="translate(140.26 500.00) scale(0.9352 1)">0</text>
<text text-anchor="middle" font-size="30.74" font-weight="bold" font-style="normal" stroke="#000" stroke-width="0.5" transform="translate(132.33 407.50) scale(0.9352 1)">50</text>
<text text-anchor="middle" font-size="30.74" font-weight="bold" font-style="normal" stroke="#000" stroke-width="0.5" transform="translate(124.40 315.00) scale(0.9352 1)">100</text>
<text text-anchor="middle" font-size="30.74" font-weight="bold" font-style="normal" stroke="#000" stroke-width="0.5" transform="translate(124.40 222.50) scale(0.9352 1)">150</text>
<text text-anchor="middle" font-size="22.40" font-weight="bold" font-style="normal" stroke="#000" stroke-width="0.5" transform="translate(368.05 529.20) scale(0.9141 1)">-/-</text>
<text text-anchor="middle" font-size="31.81" font-weight="normal" font-style="normal" stroke="#000" stroke-width="0.3" transform="translate(256.52 404.20) scale(0.9670 1)">ns</text>
<text text-anchor="middle" font-size="32.00" font-weight="bold" font-style="normal" stroke="#000" stroke-width="0.5" transform="translate(84.20 303.92) rotate(-90) scale(0.9333 1)">Fold Rel Expression <tspan font-style="italic">gsdf</tspan> : <tspan font-style="italic">vasa</tspan></text>
<text text-anchor="middle" font-size="22.05" font-weight="bold" font-style="normal" stroke="#000" stroke-width="0.5" transform="translate(495.35 342.25) scale(0.9238 1)">0</text>
<text text-anchor="middle" font-size="22.05" font-weight="bold" font-style="normal" stroke="#000" stroke-width="0.5" transform="translate(495.35 290.32) scale(0.9238 1)">1</text>
<text text-anchor="middle" font-size="22.05" font-weight="bold" font-style="normal" stroke="#000" stroke-width="0.5" transform="translate(495.35 238.39) scale(0.9238 1)">2</text>
<text text-anchor="middle" font-size="22.05" font-weight="bold" font-style="normal" stroke="#000" stroke-width="0.5" transform="translate(495.35 186.46) scale(0.9238 1)">3</text>
<text text-anchor="middle" font-size="22.05" font-weight="bold" font-style="normal" stroke="#000" stroke-width="0.5" transform="translate(494.38 134.53) scale(0.9238 1)">4</text>
<text text-anchor="middle" font-size="43.45" font-weight="bold" font-style="normal" stroke="#000" stroke-width="0.5" transform="translate(725.74 32.20) scale(0.9783 1)">B</text>
<text text-anchor="middle" font-size="30.74" font-weight="bold" font-style="normal" stroke="#000" stroke-width="0.5" transform="translate(820.86 501.00) scale(0.9352 1)">0</text>
<text text-anchor="middle" font-size="30.74" font-weight="bold" font-style="normal" stroke="#000" stroke-width="0.5" transform="translate(805.00 408.28) scale(0.9352 1)">200</text>
<text text-anchor="middle" font-size="30.74" font-weight="bold" font-style="normal" stroke="#000" stroke-width="0.5" transform="translate(805.00 315.56) scale(0.9352 1)">400</text>
<text text-anchor="middle" font-size="30.74" font-weight="bold" font-style="normal" stroke="#000" stroke-width="0.5" transform="translate(805.00 222.84) scale(0.9352 1)">600</text>
<text text-anchor="middle" font-size="30.74" font-weight="bold" font-style="normal" stroke="#000" stroke-width="0.5" transform="translate(805.00 130.12) scale(0.9352 1)">800</text>
<text text-anchor="middle" font-size="29.00" font-weight="bold" font-style="normal" stroke="#000" stroke-width="0.5" transform="translate(899.75 536.80) scale(0.9750 1)">wt</text>
<text text-anchor="middle" font-size="22.40" font-weight="bold" font-style="normal" stroke="#000" stroke-width="0.5" transform="translate(974.20 529.80) scale(0.9141 1)">+/-</text>
<text text-anchor="middle" font-size="22.40" font-weight="bold" font-style="normal" stroke="#000" stroke-width="0.5" transform="translate(1047.80 529.80) scale(0.9141 1)">-/-</text>
<text text-anchor="middle" font-size="32.19" font-weight="normal" font-style="normal" stroke="#000" stroke-width="0.3" transform="translate(936.06 414.60) scale(0.9717 1)">ns</text>
<text text-anchor="middle" font-size="32.00" font-weight="bold" font-style="normal" stroke="#000" stroke-width="0.5" transform="translate(764.40 304.57) rotate(-90) scale(0.9344 1)">Fold Rel Expression <tspan font-style="italic">amh</tspan> : <tspan font-style="italic">vasa</tspan></text>
<text text-anchor="middle" font-size="22.95" font-weight="bold" font-style="normal" stroke="#000" stroke-width="0.5" transform="translate(1176.26 361.95) scale(0.9400 1)">0</text>
<text text-anchor="middle" font-size="22.95" font-weight="bold" font-style="normal" stroke="#000" stroke-width="0.5" transform="translate(1176.26 293.02) scale(0.9400 1)">1</text>
<text text-anchor="middle" font-size="22.95" font-weight="bold" font-style="normal" stroke="#000" stroke-width="0.5" transform="translate(1176.26 224.09) scale(0.9400 1)">2</text>
<text text-anchor="middle" font-size="22.95" font-weight="bold" font-style="normal" stroke="#000" stroke-width="0.5" transform="translate(1176.26 155.16) scale(0.9400 1)">3</text>
<text text-anchor="middle" font-size="21.38" font-weight="bold" font-style="normal" stroke="#000" stroke-width="0.5" transform="translate(1250.10 389.05) scale(0.9511 1)">wt</text>
<text text-anchor="middle" font-size="14.59" font-weight="bold" font-style="normal" stroke="#000" stroke-width="0.5" transform="translate(1328.90 383.35) scale(1.0730 1)">+/-</text>
<text text-anchor="middle" font-size="44.90" font-weight="bold" font-style="normal" stroke="#000" stroke-width="0.5" transform="translate(14.81 597.10) scale(0.9078 1)">C</text>
<text text-anchor="middle" font-size="29.87" font-weight="bold" font-style="normal" stroke="#000" stroke-width="0.5" transform="translate(140.46 1074.40) scale(0.9350 1)">0</text>
<text text-anchor="middle" font-size="29.87" font-weight="bold" font-style="normal" stroke="#000" stroke-width="0.5" transform="translate(125.05 1002.14) scale(0.9350 1)">100</text>
<text text-anchor="middle" font-size="29.87" font-weight="bold" font-style="normal" stroke="#000" stroke-width="0.5" transform="translate(125.05 929.88) scale(0.9350 1)">200</text>
<text text-anchor="middle" font-size="29.87" font-weight="bold" font-style="normal" stroke="#000" stroke-width="0.5" transform="translate(125.05 857.62) scale(0.9350 1)">300</text>
<text text-anchor="middle" font-size="29.87" font-weight="bold" font-style="normal" stroke="#000" stroke-width="0.5" transform="translate(125.05 785.36) scale(0.9350 1)">400</text>
<text text-anchor="middle" font-size="29.00" font-weight="bold" font-style="normal" stroke="#000" stroke-width="0.5" transform="translate(217.30 1110.30) scale(0.9750 1)">wt</text>
<text text-anchor="middle" font-size="22.40" font-weight="bold" font-style="normal" stroke="#000" stroke-width="0.5" transform="translate(289.20 1103.00) scale(0.9141 1)">+/-</text>
<text text-anchor="middle" font-size="22.40" font-weight="bold" font-style="normal" stroke="#000" stroke-width="0.5" transform="translate(361.45 1103.00) scale(0.9141 1)">-/-</text>
<text text-anchor="middle" font-size="31.06" font-weight="normal" font-style="normal" stroke="#000" stroke-width="0.3" transform="translate(253.01 991.60) scale(1.0037 1)">ns</text>
<text text-anchor="middle" font-size="32.00" font-weight="bold" font-style="normal" stroke="#000" stroke-width="0.5" transform="translate(44.40 877.96) rotate(-90) scale(0.9099 1)">Fold Rel Expression cyp19a1a : vasa</text>
<text text-anchor="middle" font-size="30.93" font-weight="bold" font-style="normal" stroke="#000" stroke-width="0.5" transform="translate(79.93 877.65) rotate(-90) scale(0.9526 1)">(x10)</text>
<text text-anchor="middle" font-size="22.05" font-weight="bold" font-style="normal" stroke="#000" stroke-width="0.5" transform="translate(480.05 922.15) scale(0.9014 1)">0.0</text>
<text text-anchor="middle" font-size="22.05" font-weight="bold" font-style="normal" stroke="#000" stroke-width="0.5" transform="translate(480.05 871.65) scale(0.9014 1)">0.5</text>
<text text-anchor="middle" font-size="22.05" font-weight="bold" font-style="normal" stroke="#000" stroke-width="0.5" transform="translate(480.05 821.15) scale(0.9014 1)">1.0</text>
<text text-anchor="middle" font-size="22.05" font-weight="bold" font-style="normal" stroke="#000" stroke-width="0.5" transform="translate(480.05 770.65) scale(0.9014 1)">1.5</text>
<text text-anchor="middle" font-size="22.05" font-weight="bold" font-style="normal" stroke="#000" stroke-width="0.5" transform="translate(480.05 720.15) scale(0.9014 1)">2.0</text>
<text text-anchor="middle" font-size="21.38" font-weight="bold" font-style="normal" stroke="#000" stroke-width="0.5" transform="translate(555.30 947.40) scale(0.9511 1)">wt</text>
<text text-anchor="middle" font-size="14.59" font-weight="bold" font-style="normal" stroke="#000" stroke-width="0.5" transform="translate(623.70 941.35) scale(1.0730 1)">+/-</text>
<text text-anchor="middle" font-size="43.88" font-weight="bold" font-style="normal" stroke="#000" stroke-width="0.5" transform="translate(725.74 596.40) scale(0.9686 1)">D</text>
<text text-anchor="middle" font-size="27.73" font-weight="bold" font-style="normal" stroke="#000" stroke-width="0.5" transform="translate(805.15 994.00) scale(0.9512 1)">0.00</text>
<text text-anchor="middle" font-size="27.73" font-weight="bold" font-style="normal" stroke="#000" stroke-width="0.5" transform="translate(804.14 909.70) scale(0.9512 1)">0.05</text>
<text text-anchor="middle" font-size="27.73" font-weight="bold" font-style="normal" stroke="#000" stroke-width="0.5" transform="translate(804.14 741.10) scale(0.9512 1)">0.15</text>
<text text-anchor="middle" font-size="27.73" font-weight="bold" font-style="normal" stroke="#000" stroke-width="0.5" transform="translate(805.15 656.80) scale(0.9512 1)">0.20</text>
<text text-anchor="middle" font-size="21.34" font-weight="bold" font-style="normal" stroke="#000" stroke-width="0.5" transform="translate(989.40 1021.00) scale(0.9328 1)">-/-</text>
<text text-anchor="middle" font-size="27.38" font-weight="bold" font-style="normal" stroke="#000" stroke-width="0.5" transform="translate(1045.40 1028.00) scale(0.9599 1)">wt</text>
<text text-anchor="middle" font-size="21.34" font-weight="bold" font-style="normal" stroke="#000" stroke-width="0.5" transform="translate(1098.43 1021.00) scale(0.9328 1)">+/-</text>
<text text-anchor="middle" font-size="21.34" font-weight="bold" font-style="normal" stroke="#000" stroke-width="0.5" transform="translate(1151.80 1021.00) scale(0.9328 1)">-/-</text>
<text text-anchor="middle" font-size="28.93" font-weight="normal" font-style="normal" stroke="#000" stroke-width="0.3" transform="translate(965.79 710.00) scale(0.9821 1)">ns</text>
<text text-anchor="middle" font-size="28.19" font-weight="normal" font-style="normal" stroke="#000" stroke-width="0.3" transform="translate(912.95 759.80) scale(0.9971 1)">ns</text>
<text text-anchor="middle" font-size="29.68" font-weight="normal" font-style="normal" stroke="#000" stroke-width="0.3" transform="translate(1070.80 706.20) scale(0.9504 1)">ns</text>
<text text-anchor="middle" font-size="30.00" font-weight="bold" font-style="normal" stroke="#000" stroke-width="0.5" transform="translate(765.30 817.00) rotate(-90) scale(0.9094 1)">GSI %</text>
</svg></body></html>
